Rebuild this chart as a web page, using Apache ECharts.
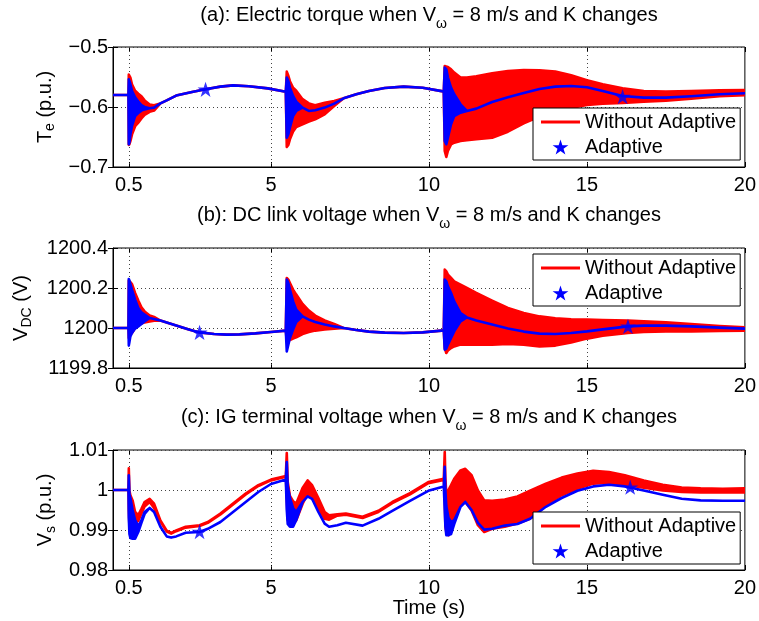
<!DOCTYPE html>
<html><head><meta charset="utf-8">
<script src="https://cdn.jsdelivr.net/npm/echarts@6/dist/echarts.min.js"></script>
<style>html,body{margin:0;padding:0;background:#fff}#c{width:759px;height:621px}</style>
</head><body><div id="c"></div>
<script>
// ---------- data ----------
const xTicks = [0.5, 5, 10, 15, 20];
const yTicksA = [-0.7, -0.6, -0.5];
const yTicksB = [1199.8, 1200, 1200.2, 1200.4];
const yTicksC = [0.98, 0.99, 1, 1.01];

const timeA = [0,0.49,0.5,0.52,0.55,0.6,0.7,0.8,0.9,1.0, 1.16,1.3,1.5,1.7,2.0,2.5,2.93,3.4,3.8,4.3, 4.9,5.47,5.5,5.55,5.6,5.7,5.8,6.0,6.2,6.4, 6.7,7.0,7.3,7.7,8.1,8.6,9.2,9.8,10.4,10.47, 10.5,10.55,10.6,10.7,10.8,11.0,11.2,11.5,12.0,12.5, 13.0,13.5,14.0,14.5,15.0,15.5,16.13,16.8,17.5,18.3, 19.2,20];
const redUpA = [-0.58,-0.58,-0.546,-0.548,-0.551,-0.562,-0.573,-0.578,-0.582,-0.589, -0.596,-0.597,-0.594,-0.589,-0.581,-0.575,-0.5705,-0.566,-0.564,-0.5655, -0.569,-0.5745,-0.541,-0.548,-0.557,-0.568,-0.573,-0.587,-0.594,-0.597, -0.593,-0.59,-0.5855,-0.5788,-0.5733,-0.5683,-0.5661,-0.568,-0.5735,-0.5745, -0.5316,-0.5327,-0.5333,-0.5372,-0.5427,-0.551,-0.551,-0.5488,-0.5438,-0.54, -0.5383,-0.5388,-0.541,-0.5472,-0.5555,-0.5622,-0.5688,-0.5733,-0.5744,-0.5733, -0.5722,-0.5716];
const redLoA = [-0.58,-0.58,-0.663,-0.662,-0.657,-0.646,-0.632,-0.626,-0.619,-0.613, -0.608,-0.606,-0.594,-0.589,-0.581,-0.575,-0.5705,-0.566,-0.564,-0.5655, -0.569,-0.5745,-0.6666,-0.6633,-0.6538,-0.641,-0.6333,-0.6288,-0.6244,-0.6205, -0.6122,-0.5983,-0.5855,-0.5788,-0.5733,-0.5683,-0.5661,-0.568,-0.5735,-0.5745, -0.6733,-0.6833,-0.6733,-0.6622,-0.6594,-0.6566,-0.6555,-0.6538,-0.6511,-0.6411, -0.6272,-0.6161,-0.6077,-0.6016,-0.5966,-0.5944,-0.5933,-0.591,-0.5894,-0.586, -0.5822,-0.5805];
const blueUpA = [-0.58,-0.58,-0.554,-0.557,-0.562,-0.573,-0.584,-0.591,-0.597,-0.600, -0.602,-0.601,-0.594,-0.589,-0.581,-0.575,-0.5705,-0.566,-0.564,-0.5655, -0.569,-0.5745,-0.551,-0.5566,-0.5677,-0.5816,-0.591,-0.601,-0.6066,-0.6055, -0.601,-0.5944,-0.5855,-0.5788,-0.5733,-0.5683,-0.5661,-0.568,-0.5735,-0.5745, -0.5344,-0.5372,-0.551,-0.5677,-0.5788,-0.5955,-0.6066,-0.6027,-0.5916,-0.5838, -0.5766,-0.57,-0.5661,-0.565,-0.5672,-0.5733,-0.5816,-0.5844,-0.5844,-0.5822, -0.5788,-0.5772];
const blueLoA = [-0.58,-0.58,-0.662,-0.659,-0.646,-0.632,-0.615,-0.61,-0.606,-0.604, -0.602,-0.601,-0.594,-0.589,-0.581,-0.575,-0.5705,-0.566,-0.564,-0.5655, -0.569,-0.5745,-0.6511,-0.6455,-0.6344,-0.615,-0.6066,-0.601,-0.6066,-0.6055, -0.601,-0.5944,-0.5855,-0.5788,-0.5733,-0.5683,-0.5661,-0.568,-0.5735,-0.5745, -0.6566,-0.6622,-0.6511,-0.6288,-0.615,-0.6094,-0.6066,-0.6027,-0.5916,-0.5838, -0.5766,-0.57,-0.5661,-0.565,-0.5672,-0.5733,-0.5816,-0.5844,-0.5844,-0.5822, -0.5788,-0.5772];
const starTimeA = [2.93, 16.13];
const starValA = [-0.5705, -0.5827];

const timeB = [0,0.49,0.5,0.52,0.55,0.6,0.7,0.8,0.9,1.0, 1.16,1.3,1.5,1.7,2.0,2.4,2.74,3.2,3.6,4.0, 4.5,5.0,5.47,5.5,5.55,5.6,5.7,5.8,6.0,6.2, 6.4,6.7,7.0,7.3,7.7,8.1,8.6,9.2,9.8,10.4, 10.47,10.5,10.55,10.6,10.7,10.8,11.0,11.2,11.5,12.0, 12.5,13.0,13.5,14.0,14.5,15.0,15.5,16.3,16.8,17.5, 18.3,19.2,20];
const redUpB = [1200,1200,1200.237,1200.233,1200.23,1200.22,1200.175,1200.137,1200.103,1200.083, 1200.063,1200.055,1200.037,1200.028,1200.013,1199.993,1199.978,1199.97,1199.967,1199.968, 1199.973,1199.98,1199.987,1200.25,1200.242,1200.225,1200.192,1200.167,1200.12,1200.087, 1200.062,1200.038,1200.02,1200.0,1199.99,1199.982,1199.977,1199.975,1199.978,1199.987, 1199.987,1200.292,1200.283,1200.267,1200.25,1200.233,1200.217,1200.2,1200.175,1200.137, 1200.1,1200.075,1200.058,1200.048,1200.043,1200.042,1200.04,1200.037,1200.033,1200.028, 1200.02,1200.01,1200.003];
const redLoB = [1200,1200,1199.95,1199.958,1199.967,1199.975,1200.0,1200.013,1200.022,1200.028, 1200.033,1200.037,1200.037,1200.028,1200.013,1199.993,1199.978,1199.97,1199.967,1199.968, 1199.973,1199.98,1199.987,1199.933,1199.937,1199.94,1199.947,1199.953,1199.97,1199.98, 1199.987,1199.993,1199.997,1200.0,1199.99,1199.982,1199.977,1199.975,1199.978,1199.987, 1199.987,1199.9,1199.875,1199.887,1199.9,1199.908,1199.917,1199.917,1199.917,1199.917, 1199.92,1199.917,1199.908,1199.912,1199.928,1199.947,1199.962,1199.975,1199.98,1199.983, 1199.983,1199.985,1199.987];
const blueUpB = [1200,1200,1200.245,1200.237,1200.22,1200.192,1200.142,1200.1,1200.078,1200.067, 1200.05,1200.045,1200.037,1200.028,1200.013,1199.993,1199.978,1199.97,1199.967,1199.968, 1199.973,1199.98,1199.987,1200.242,1200.225,1200.192,1200.133,1200.092,1200.058,1200.042, 1200.03,1200.018,1200.008,1200.0,1199.99,1199.982,1199.977,1199.975,1199.978,1199.987, 1199.987,1200.242,1200.233,1200.208,1200.175,1200.133,1200.075,1200.053,1200.037,1200.017, 1199.998,1199.982,1199.972,1199.97,1199.975,1199.983,1199.993,1200.008,1200.012,1200.012, 1200.008,1200.002,1199.997];
const blueLoB = [1200,1200,1199.912,1199.93,1199.958,1199.975,1199.997,1200.008,1200.02,1200.033, 1200.05,1200.045,1200.037,1200.028,1200.013,1199.993,1199.978,1199.97,1199.967,1199.968, 1199.973,1199.98,1199.987,1199.883,1199.917,1199.95,1199.992,1200.03,1200.058,1200.042, 1200.03,1200.018,1200.008,1200.0,1199.99,1199.982,1199.977,1199.975,1199.978,1199.987, 1199.987,1199.892,1199.897,1199.917,1199.95,1199.983,1200.033,1200.053,1200.037,1200.017, 1199.998,1199.982,1199.972,1199.97,1199.975,1199.983,1199.993,1200.008,1200.012,1200.012, 1200.008,1200.002,1199.997];
const starTimeB = [2.74, 16.3];
const starValB = [1199.978, 1200.008];

const timeC = [0,0.49,0.5,0.52,0.55,0.62,0.7,0.8,0.9,1.0, 1.16,1.3,1.5,1.7,1.84,2.0,2.3,2.74,3.0,3.4, 3.8,4.2,4.6,5.0,5.47,5.5,5.53,5.6,5.7,5.8, 6.0,6.16,6.3,6.5,6.7,6.84,7.1,7.37,7.9,8.4, 8.84,9.4,9.98,10.47,10.5,10.52,10.55,10.62,10.7,10.8, 11.0,11.15,11.35,11.55,11.75,12.0,12.4,12.8,13.2,13.7, 14.2,14.7,15.2,15.7,16.2,16.8,17.4,18,18.6,19.3, 20];
const redUpC = [1.0,1.0,1.0054,0.9999,0.9987,0.9974,0.9945,0.9937,0.9953,0.997, 0.9978,0.9966,0.9924,0.9898,0.9893,0.9899,0.9908,0.9912,0.992,0.9941, 0.9966,0.9991,1.0012,1.0026,1.0035,1.00925,1.002,0.9985,0.9972,0.9966, 1.0005,1.0024,1.0012,0.998,0.9945,0.9937,0.9939,0.9941,0.9933,0.9948, 0.997,0.9992,1.002,1.0028,1.0095,1.003,0.999,1.0,1.0012,1.0028, 1.0049,1.0053,1.0037,0.9999,0.9974,0.9973,0.9976,0.9984,0.9998,1.0016, 1.0031,1.0041,1.0048,1.0045,1.0037,1.0024,1.0013,1.0006,1.0004,1.0003, 1.0004];
const redLoC = [1.0,1.0,0.995,0.9908,0.9903,0.9912,0.9918,0.9923,0.9941,0.9959, 0.997,0.9955,0.9921,0.9896,0.9891,0.9897,0.9906,0.991,0.9918,0.9939, 0.9964,0.9989,1.001,1.0024,1.0033,0.998,0.9925,0.9913,0.9915,0.9924, 0.9965,0.9991,0.998,0.9953,0.9928,0.9926,0.9936,0.9938,0.993,0.9945, 0.9967,0.9989,1.0017,1.0025,0.998,0.991,0.9895,0.9887,0.9905,0.9928, 0.9962,0.997,0.9949,0.9912,0.9895,0.9903,0.9908,0.9916,0.9928,0.9962, 0.9987,1.0003,1.0016,1.0018,1.0013,1.0006,0.9999,0.9995,0.9994,0.9994, 0.9994];
const blueUpC = [1.0,1.0,1.0037,0.999,0.998,0.995,0.9925,0.991,0.9925,0.9945, 0.9955,0.9945,0.9908,0.9884,0.9881,0.9884,0.9893,0.9895,0.9903,0.992, 0.9945,0.997,0.9995,1.0015,1.0026,1.007,1.001,0.998,0.9955,0.9945, 0.997,0.9984,0.9978,0.9945,0.9916,0.9908,0.9912,0.9918,0.9911,0.9928, 0.9948,0.9973,0.9998,1.0009,1.0058,1.0,0.996,0.993,0.992,0.9925, 0.9958,0.997,0.995,0.9918,0.9901,0.9903,0.9911,0.9915,0.9928,0.9958, 0.998,0.9998,1.0009,1.0013,1.0009,0.9999,0.9988,0.9978,0.9974,0.9973, 0.9973];
const blueLoC = [1.0,1.0,0.993,0.989,0.988,0.9878,0.9878,0.9895,0.9918,0.994, 0.9955,0.9945,0.9908,0.9884,0.9881,0.9884,0.9893,0.9895,0.9903,0.992, 0.9945,0.997,0.9995,1.0015,1.0026,0.995,0.9915,0.9908,0.9908,0.9925, 0.997,0.9984,0.9978,0.9945,0.9916,0.9908,0.9912,0.9918,0.9911,0.9928, 0.9948,0.9973,0.9998,1.0009,0.995,0.991,0.9887,0.9887,0.989,0.9915, 0.9958,0.997,0.995,0.9918,0.9901,0.9903,0.9911,0.9915,0.9928,0.9958, 0.998,0.9998,1.0009,1.0013,1.0009,0.9999,0.9988,0.9978,0.9974,0.9973, 0.9973];
const starTimeC = [2.74, 16.37];
const starValC = [0.9896, 1.0007];

const titles = [
  '(a): Electric torque when V{sub|ω} = 8 m/s and K changes',
  '(b): DC link voltage when V{sub|ω} = 8 m/s and K changes',
  '(c): IG terminal voltage when V{sub|ω} = 8 m/s and K changes'
];
const yNames = ['T{sub|e} (p.u.)', 'V{sub|DC} (V)', 'V{sub|s} (p.u.)'];
const legendNames = ['Without Adaptive', 'Adaptive'];

// ---------- layout / style ----------
const FONT = 'Liberation Sans, Arial, Helvetica, sans-serif';
const FS = 20;
const RED = '#ff0000', BLUE = '#0000ff';
const LW = 2.6;
const STAR = 'path://M0,-10L2.245,-3.09L9.511,-3.09L3.633,1.18L5.878,8.09L0,3.82L-5.878,8.09L-3.633,1.18L-9.511,-3.09L-2.245,-3.09Z';
const LINE_ICON = 'path://M0,0L40,0L40,3L0,3Z';
const GRID_LEFT = 113, GRID_W = 634, GRID_H = 120;
const gridTops = [47, 248, 450];
const titleY = [15, 215, 417];
const legendTops = [108, 254, 512];
const yNameGaps = [53, 79, 53];
const GRID_COLOR = '#444';

const panels = [
  {time: timeA, rU: redUpA, rL: redLoA, bU: blueUpA, bL: blueLoA, sT: starTimeA, sV: starValA, yt: yTicksA},
  {time: timeB, rU: redUpB, rL: redLoB, bU: blueUpB, bL: blueLoB, sT: starTimeB, sV: starValB, yt: yTicksB},
  {time: timeC, rU: redUpC, rL: redLoC, bU: blueUpC, bL: blueLoC, sT: starTimeC, sV: starValC, yt: yTicksC}
];

function fmt(v) { return String(parseFloat(Number(v).toFixed(4))).replace('-', '\u2212'); }

const grid = [], xAxis = [], yAxis = [], series = [], legend = [], graphic = [];

panels.forEach((p, i) => {
  grid.push({left: GRID_LEFT, top: gridTops[i], width: GRID_W, height: GRID_H,
    show: true, borderColor: '#000', borderWidth: 1, backgroundColor: '#fff'});
});
panels.forEach((p, i) => {
  xAxis.push({
    type: 'value', gridIndex: i, min: 0, max: 20, position: 'bottom',
    axisLine: {show: true, onZero: false, lineStyle: {color: '#000', width: 1}},
    axisTick: {show: true, inside: true, length: 5, customValues: xTicks, lineStyle: {color: '#000'}},
    axisLabel: {show: true, customValues: xTicks, margin: 8, color: '#000', fontSize: FS, fontFamily: FONT, formatter: fmt},
    splitLine: {show: false},
    name: i === 2 ? 'Time (s)' : '', nameLocation: 'middle', nameGap: 27,
    nameTextStyle: {color: '#000', fontSize: FS, fontFamily: FONT}
  });
});
panels.forEach((p, i) => {
  xAxis.push({
    type: 'value', gridIndex: i, min: 0, max: 20, position: 'top',
    axisLine: {show: false},
    axisTick: {show: true, inside: true, length: 5, customValues: xTicks, lineStyle: {color: '#000'}},
    axisLabel: {show: false}, splitLine: {show: false}
  });
});
panels.forEach((p, i) => {
  const yt = p.yt;
  yAxis.push({
    type: 'value', gridIndex: i, min: yt[0], max: yt[yt.length - 1], interval: +(yt[1] - yt[0]).toFixed(4),
    position: 'left',
    axisLine: {show: true, onZero: false, lineStyle: {color: '#000', width: 1}},
    axisTick: {show: true, inside: true, length: 5, lineStyle: {color: '#000'}},
    axisLabel: {show: true, margin: 5, color: '#000', fontSize: FS, fontFamily: FONT, formatter: fmt},
    splitLine: {show: true, lineStyle: {color: GRID_COLOR, width: 1, type: [1, 3]}},
    name: yNames[i], nameLocation: 'middle', nameGap: yNameGaps[i], nameRotate: 90,
    nameTextStyle: {color: '#000', fontSize: FS, fontFamily: FONT,
      rich: {sub: {fontSize: 14, fontFamily: FONT, color: '#000', padding: [11, 0, 0, 0]}}}
  });
});
panels.forEach((p, i) => {
  const yt = p.yt;
  yAxis.push({
    type: 'value', gridIndex: i, min: yt[0], max: yt[yt.length - 1], interval: +(yt[1] - yt[0]).toFixed(4),
    position: 'right',
    axisLine: {show: false},
    axisTick: {show: true, inside: true, length: 5, lineStyle: {color: '#000'}},
    axisLabel: {show: false}, splitLine: {show: false}
  });
});

// vertical dotted grid lines at the x tick values
function gridLineSeries(gi) {
  return {
    type: 'custom', name: 'grid' + gi, xAxisIndex: gi, yAxisIndex: gi, silent: true, z: 1,
    data: xTicks.filter(v => v < 20).map(v => [v]),
    renderItem: (params, api) => {
      const cs = params.coordSys;
      const x = Math.round(api.coord([api.value(0), panels[gi].yt[0]])[0]) + 0.5;
      return {type: 'line', shape: {x1: x, y1: cs.y, x2: x, y2: cs.y + cs.height},
        style: {stroke: GRID_COLOR, lineWidth: 1, lineDash: [1, 3]}};
    }
  };
}

// a band (upper/lower envelope of the oscillating trace) drawn as one polygon
function bandSeries(name, color, gi, time, up, lo, z) {
  return {
    type: 'custom', name: name, xAxisIndex: gi, yAxisIndex: gi, silent: true, z: z,
    color: color, itemStyle: {color: color}, clip: true,
    data: time.map((t, k) => [t, lo[k], up[k]]),
    renderItem: (params, api) => {
      if (params.dataIndex !== 0) return null;
      const upper = time.map((t, k) => api.coord([t, up[k]]));
      const lower = time.map((t, k) => api.coord([t, lo[k]])).reverse();
      return {type: 'polygon', shape: {points: upper.concat(lower)},
        style: {fill: color, stroke: color, lineWidth: LW, lineJoin: 'round'}};
    }
  };
}

panels.forEach((p, i) => {
  series.push(gridLineSeries(i));
  series.push(bandSeries(legendNames[0], RED, i, p.time, p.rU, p.rL, 2));
  series.push(bandSeries(legendNames[1], BLUE, i, p.time, p.bU, p.bL, 3));
  series.push({
    type: 'scatter', name: legendNames[1], xAxisIndex: i, yAxisIndex: i, color: BLUE,
    symbol: STAR, symbolSize: 16, symbolKeepAspect: true, silent: true,
    data: p.sT.map((t, k) => [t, p.sV[k]]), z: 5
  });
  legend.push({
    orient: 'vertical', left: 533, top: legendTops[i],
    itemWidth: 39, itemHeight: 15, itemGap: 5, padding: [4, 4, 3, 8],
    borderColor: '#000', borderWidth: 1, backgroundColor: '#fff', borderRadius: 0,
    selectedMode: false,
    textStyle: {color: '#000', fontSize: FS, fontFamily: FONT},
    data: [{name: legendNames[0], icon: LINE_ICON}, {name: legendNames[1], icon: STAR}]
  });
  graphic.push({
    type: 'text', x: 429, y: titleY[i], silent: true,
    style: {text: titles[i], fill: '#000', fontSize: FS, fontFamily: FONT,
      align: 'center', verticalAlign: 'middle', textAlign: 'center', textVerticalAlign: 'middle',
      rich: {sub: {fontSize: 14, fontFamily: FONT, fill: '#000', padding: [18, 0, 0, 0]}}}
  });
});

const chart = echarts.init(document.getElementById('c'), null, {renderer: 'canvas'});
chart.setOption({
  backgroundColor: '#fff', animation: false,
  grid, xAxis, yAxis, series, legend, graphic, tooltip: {show: false}
});
</script>
</body></html>
